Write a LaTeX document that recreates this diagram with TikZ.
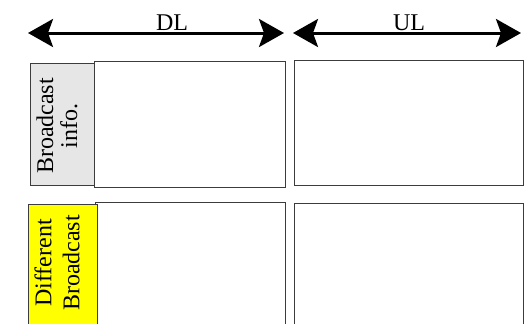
\documentclass[tikz,border=0pt]{standalone}
\usepackage{fontspec}
\setmainfont{Liberation Serif}
\usetikzlibrary{arrows.meta}
\definecolor{boxline}{HTML}{3C3C3C}
\definecolor{infogray}{HTML}{E6E6E6}
\definecolor{bcyellow}{HTML}{FFFF00}
\tikzset{
  frame/.style={draw=boxline, line width=1pt, fill=white, inner sep=0pt, anchor=north west},
  tagbox/.style={draw=boxline, line width=1pt, inner sep=0pt, anchor=north west},
  vtext/.style={rotate=90, align=center, inner sep=0pt, font=\fontsize{24}{24}\selectfont},
  dirarrow/.style={line width=3pt, {Stealth[length=25pt, width=28pt, inset=5pt]}-{Stealth[length=25pt, width=28pt, inset=5pt]}},
  dirlabel/.style={anchor=base, inner sep=0pt, font=\fontsize{24}{28}\selectfont}
}
\begin{document}
\begin{tikzpicture}[x=1pt, y=-1pt]
\useasboundingbox (0,0) rectangle (525,324);
\clip (0,0) rectangle (525,324);
% arrows
\coordinate (dlL) at (28,33);
\coordinate (dlR) at (284,33);
\coordinate (ulL) at (293,33);
\coordinate (ulR) at (521,33);
\draw[dirarrow] (dlL) -- (dlR);
\draw[dirarrow] (ulL) -- (ulR);
\node[dirlabel] (dl) at (172,30) {DL};
\node[dirlabel] (ul) at (409,30) {UL};
% top row
\node[frame, minimum width=191pt, minimum height=126pt] (dltop) at (94,61) {};
\node[tagbox, fill=infogray, minimum width=64pt, minimum height=122pt] (info) at (30,63) {};
\node[vtext] (infotext) at (57,126) {Broadcast\\info.};
\node[frame, minimum width=229pt, minimum height=125pt] (ultop) at (294,60) {};
% bottom row
\node[frame, minimum width=190pt, minimum height=140pt] (dlbot) at (95,202) {};
\node[tagbox, fill=bcyellow, minimum width=69pt, minimum height=140pt] (diff) at (28,204) {};
\node[vtext] (difftext) at (57,263) {Different\\[4pt]Broadcast};
\node[frame, minimum width=229pt, minimum height=140pt] (ulbot) at (294,203) {};
\end{tikzpicture}
\end{document}
